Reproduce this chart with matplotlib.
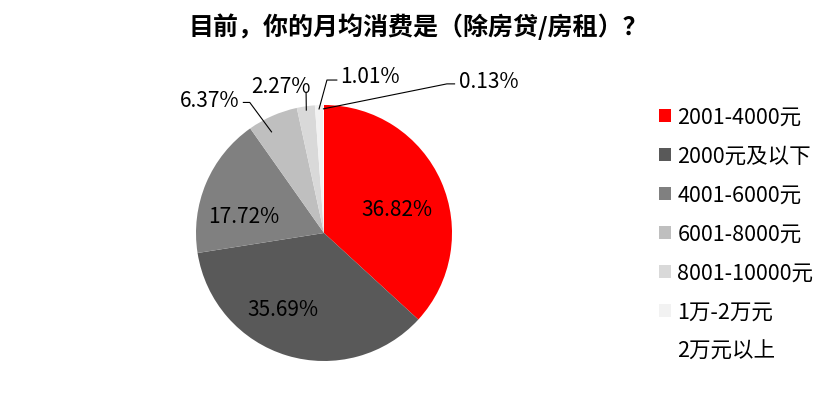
import numpy as np
import matplotlib.pyplot as plt
from matplotlib.patches import Patch

plt.rcParams['font.family'] = ['Noto Sans CJK SC', 'DejaVu Sans']

title = '目前，你的月均消费是（除房贷/房租）？'
categories = ['2001-4000元', '2000元及以下', '4001-6000元', '6001-8000元',
              '8001-10000元', '1万-2万元', '2万元以上']
shares = [36.82, 35.69, 17.72, 6.37, 2.27, 1.01, 0.13]
colors = ['#FF0000', '#595959', '#808080', '#BFBFBF', '#D9D9D9', '#F2F2F2', '#FFFFFF']

fig = plt.figure(figsize=(8.37, 4.06), dpi=100)
# pie axes: centre at (324, 234) px, radius 128 px
W, H = 837, 406
cx, cy, r = 324, 234, 128
ax = fig.add_axes([(cx - r) / W, (H - cy - r) / H, 2 * r / W, 2 * r / H])
wedges, _ = ax.pie(shares, colors=colors, startangle=90, counterclock=False,
                   radius=1.0, wedgeprops=dict(linewidth=0))
ax.set_xlim(-1, 1)
ax.set_ylim(-1, 1)
ax.set_aspect('equal')
ax.axis('off')

fs = 15
# inner labels for the three big slices
inner_pos = [(0.57, 0.19), (-0.32, -0.59), (-0.63, 0.13)]
for (x, y), v in zip(inner_pos, shares[:3]):
    ax.text(x, y, f'{v:.2f}%', ha='center', va='center', fontsize=fs, color='black')

# outer labels with leader lines
outer = {
    3: dict(txt=(-0.89, 1.04), path=[(-0.63, 1.02), (-0.58, 1.02)]),
    4: dict(txt=(-0.336, 1.15), path=[(-0.14, 1.10)]),
    5: dict(txt=(0.36, 1.23), path=[(0.10, 1.195), (0.023, 1.195)]),
    6: dict(txt=(1.29, 1.19), path=[(1.02, 1.165), (0.96, 1.165)]),
}
for i, o in outer.items():
    w = wedges[i]
    ang = np.deg2rad((w.theta1 + w.theta2) / 2)
    px, py = 0.97 * np.cos(ang), 0.97 * np.sin(ang)
    if i == 3:
        px, py = -0.41, 0.79
    pts = o['path'] + [(px, py)]
    xs, ys = zip(*pts)
    ax.plot(xs, ys, color='black', lw=0.8, clip_on=False)
    ax.text(o['txt'][0], o['txt'][1], f'{shares[i]:.2f}%', ha='center', va='center',
            fontsize=fs, color='black', clip_on=False)

handles = [Patch(facecolor=c, edgecolor='none') for c in colors]
fig.legend(handles, categories, loc='upper left', bbox_to_anchor=(659 / W, 1 - 107 / H),
           frameon=False, fontsize=15.5, labelspacing=0.79, handlelength=0.55,
           handleheight=0.55, handletextpad=0.3, borderaxespad=0, borderpad=0)

fig.text(418 / W, 1 - 27 / H, title, ha='center', va='center', fontsize=18,
         fontweight='bold', color='black')

fig.savefig('out.png', dpi=100)
